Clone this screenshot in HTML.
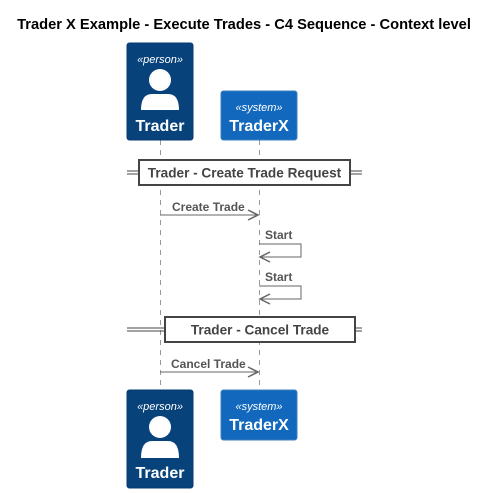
<!DOCTYPE html>
<html><head><meta charset="utf-8"><style>
html,body{margin:0;padding:0;background:#fff;}
svg{display:block;font-family:"Liberation Sans",Arial,sans-serif;}
</style></head><body>
<svg width="489" height="493" viewBox="0 0 489 493" xmlns="http://www.w3.org/2000/svg">
<text x="244" y="29" text-anchor="middle" font-size="14.7" font-weight="bold" fill="#000">Trader X Example - Execute Trades - C4 Sequence - Context level</text>
<g stroke="#999" stroke-width="1" stroke-dasharray="5,5">
<line x1="160.5" y1="140" x2="160.5" y2="390"/>
<line x1="259.5" y1="140" x2="259.5" y2="390"/>
</g>
<g>
<rect x="127" y="43" width="66" height="97" rx="2.5" fill="#08427B" stroke="#073B6F"/>
<text x="160" y="63" text-anchor="middle" font-size="11" font-style="italic" fill="#fff">«person»</text>
<circle cx="160" cy="80" r="11" fill="#fff"/>
<path d="M141 110 Q141 94 152 94 L168 94 Q179 94 179 110 Z" fill="#fff"/>
<text x="160" y="131" text-anchor="middle" font-size="16" font-weight="bold" fill="#fff">Trader</text>
<rect x="221" y="91" width="76" height="49" rx="2.5" fill="#1168BD" stroke="#3C7FC0"/>
<text x="259" y="111" text-anchor="middle" font-size="11" font-style="italic" fill="#fff">«system»</text>
<text x="259" y="131" text-anchor="middle" font-size="16" font-weight="bold" fill="#fff">TraderX</text>
</g>
<g>
<rect x="127" y="390" width="66" height="98" rx="2.5" fill="#08427B" stroke="#073B6F"/>
<text x="160" y="410" text-anchor="middle" font-size="11" font-style="italic" fill="#fff">«person»</text>
<circle cx="160" cy="427" r="11" fill="#fff"/>
<path d="M141 458 Q141 441 152 441 L168 441 Q179 441 179 458 Z" fill="#fff"/>
<text x="160" y="478" text-anchor="middle" font-size="16" font-weight="bold" fill="#fff">Trader</text>
<rect x="221" y="390" width="76" height="50" rx="2.5" fill="#1168BD" stroke="#3C7FC0"/>
<text x="259" y="410" text-anchor="middle" font-size="11" font-style="italic" fill="#fff">«system»</text>
<text x="259" y="430" text-anchor="middle" font-size="16" font-weight="bold" fill="#fff">TraderX</text>
</g>
<g stroke="#444" stroke-width="1" fill="none">
<line x1="127" y1="171" x2="362" y2="171"/><line x1="127" y1="174" x2="362" y2="174"/>
<line x1="127" y1="328" x2="362" y2="328"/><line x1="127" y1="331" x2="362" y2="331"/>
</g>
<rect x="139" y="160" width="211" height="25" fill="#fff" stroke="#444" stroke-width="2"/>
<text x="244.5" y="177.5" text-anchor="middle" font-size="13.6" font-weight="bold" fill="#444">Trader - Create Trade Request</text>
<rect x="165" y="317" width="190" height="25" fill="#fff" stroke="#444" stroke-width="2"/>
<text x="260" y="334.5" text-anchor="middle" font-size="13.6" font-weight="bold" fill="#444">Trader - Cancel Trade</text>
<g stroke="#666" stroke-width="1" fill="none">
<line x1="160" y1="215" x2="258" y2="215"/>
<polyline points="248,210 258,215 248,220" stroke-width="1.5"/>
<polyline points="259,244 301,244 301,257 260,257"/>
<polyline points="270,252 260,257 270,262" stroke-width="1.5"/>
<polyline points="259,286 301,286 301,299 260,299"/>
<polyline points="270,294 260,299 270,304" stroke-width="1.5"/>
<line x1="160" y1="372" x2="258" y2="372"/>
<polyline points="248,367 258,372 248,377" stroke-width="1.5"/>
</g>
<g font-size="12" font-weight="bold" fill="#555">
<text x="172" y="211">Create Trade</text>
<text x="265" y="239">Start</text>
<text x="265" y="281">Start</text>
<text x="171" y="368">Cancel Trade</text>
</g>
</svg>
</body></html>
